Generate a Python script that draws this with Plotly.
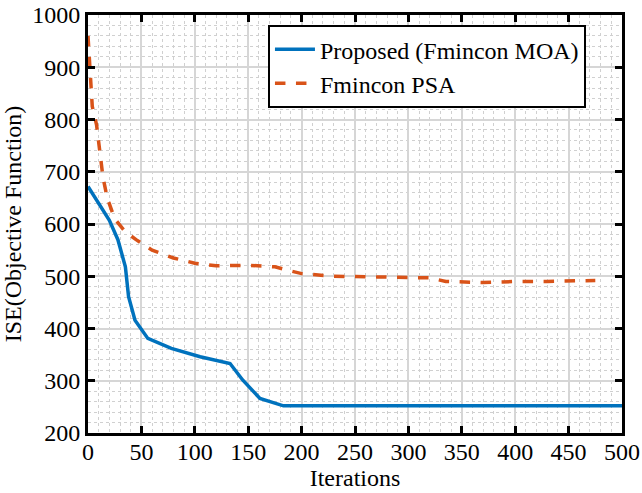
import plotly.graph_objects as go

# Proposed (Fmincon MOA)
moa_x = [0, 10, 20, 28, 35, 38, 44, 56, 78, 105, 133, 145, 161, 183, 500]
moa_y = [672, 640, 607, 570, 518, 461, 416, 381, 362, 346, 333, 301, 266, 252, 252]

# Fmincon PSA
psa_x = [0, 2, 4, 8, 11, 14, 18, 25, 35, 45, 60, 80, 100, 120, 150, 175, 190, 200, 230, 280, 320, 335, 370, 400, 430, 475]
psa_y = [960, 880, 825, 790, 740, 690, 650, 610, 585, 570, 550, 535, 525, 520, 521, 518, 510, 505, 500, 498, 497, 490, 488, 490, 490, 492]

x_ticks = [0, 50, 100, 150, 200, 250, 300, 350, 400, 450, 500]
y_ticks = [200, 300, 400, 500, 600, 700, 800, 900, 1000]

FONT = "Liberation Serif, Times New Roman, serif"

fig = go.Figure()
fig.add_trace(go.Scatter(x=moa_x, y=moa_y, mode="lines", name="Proposed (Fmincon MOA)",
                         line=dict(color="#0072BD", width=3.5)))
fig.add_trace(go.Scatter(x=psa_x, y=psa_y, mode="lines", name="Fmincon PSA",
                         line=dict(color="#D95319", width=3.5, dash="dash")))

axis_common = dict(
    showline=True, linecolor="black", linewidth=3, mirror="ticks",
    ticks="inside", ticklen=7, tickwidth=3, tickcolor="black",
    showgrid=True, gridcolor="#d6d6d6", gridwidth=2,
    zeroline=False, automargin=False,
    tickfont=dict(family=FONT, size=24, color="black"),
    minor=dict(showgrid=True, gridcolor="#d0d0d0", griddash="dot", gridwidth=1, ticks=""),
)

fig.update_xaxes(range=[0, 500], tickvals=x_ticks, ticktext=[str(v) for v in x_ticks],
                 ticklabelstandoff=-5,
                 title=dict(text="Iterations", font=dict(family=FONT, size=24, color="black"), standoff=2),
                 **axis_common)
fig.update_xaxes(minor_dtick=10)
fig.update_yaxes(range=[200, 1000], tickvals=y_ticks, ticktext=[str(v) for v in y_ticks],
                 title=dict(text="ISE(Objective Function)", font=dict(family=FONT, size=24, color="black"), standoff=6),
                 **axis_common)
fig.update_yaxes(minor_dtick=20)

fig.update_layout(
    width=642, height=493,
    margin=dict(l=88, r=20, t=15, b=60, autoexpand=False),
    paper_bgcolor="white", plot_bgcolor="white",
    font=dict(family=FONT, size=24, color="black"),
    showlegend=True,
    legend=dict(x=0.337, y=0.976, xanchor="left", yanchor="top",
                bgcolor="white", bordercolor="black", borderwidth=2,
                font=dict(family=FONT, size=24, color="black"),
                tracegroupgap=0, itemwidth=40),
)

fig.write_html("out.html")
